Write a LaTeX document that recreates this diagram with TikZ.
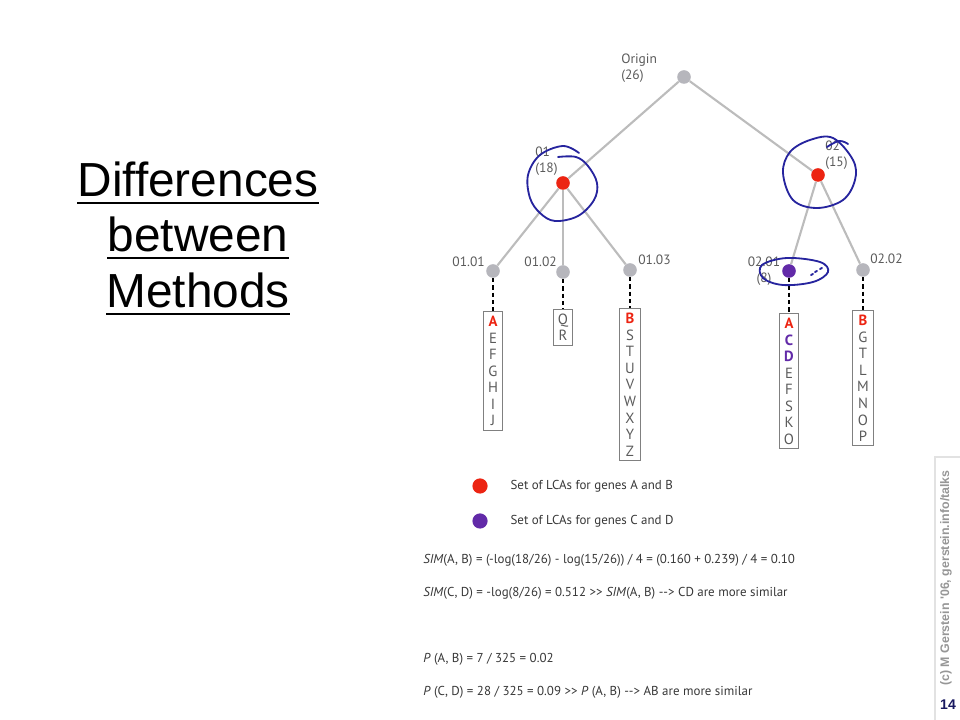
\documentclass[tikz,border=0pt]{standalone}
\usepackage{fontspec}
\setmainfont{PT Sans}
\newfontfamily\slidefont{Liberation Sans}
\usepackage{tikz}
\usetikzlibrary{positioning}

\definecolor{lcared}{RGB}{236,36,18}
\definecolor{lcapurple}{RGB}{98,42,168}
\definecolor{nodegray}{RGB}{182,182,188}
\definecolor{edgegray}{RGB}{188,188,188}
\definecolor{lblgray}{RGB}{90,90,90}
\definecolor{textgray}{RGB}{55,55,55}
\definecolor{inkblue}{RGB}{38,36,158}
\definecolor{creditgray}{RGB}{150,150,150}
\definecolor{pagenavy}{RGB}{24,24,96}
\definecolor{framegray}{RGB}{226,226,226}

\newcommand{\abgene}[1]{\textcolor{lcared}{\textbf{#1}}}
\newcommand{\cdgene}[1]{\textcolor{lcapurple}{\textbf{#1}}}

\begin{document}
\begin{tikzpicture}[
        x=0.025cm, y=-0.025cm,
        dot/.style={circle, fill=nodegray, minimum size=0.34cm, inner sep=0pt},
        edge/.style={draw=edgegray, line width=1.5pt},
        stem/.style={draw=black, line width=2pt, dash pattern=on 3pt off 2.2pt},
        leaf/.style={draw=gray, line width=0.7pt, align=center, inner sep=3pt, text=lblgray, font=\fontsize{10.5}{11.8}\selectfont},
        lbl/.style={inner sep=0pt, text=lblgray, font=\fontsize{9.6}{11.2}\selectfont},
        note/.style={inner sep=0pt, text=textgray, font=\fontsize{9.2}{11}\selectfont},
        scribble/.style={draw=inkblue, line width=1.3pt, line cap=round, line join=round},
        title/.style={inner sep=0pt, anchor=base, font=\slidefont\fontsize{34}{40}\selectfont},
        uline/.style={draw=black, line width=2pt},
    ]

    \useasboundingbox (0,0) rectangle (960,720);

    % === TITLE ===
    \node[title] (t1) at (198,197) {Differences};
    \node[title] (t2) at (198,252) {between};
    \node[title] (t3) at (198,308) {Methods};
    \draw[uline] ([yshift=-0.15cm]t1.base west) -- ([yshift=-0.15cm]t1.base east);
    \draw[uline] ([yshift=-0.15cm]t2.base west) -- ([yshift=-0.15cm]t2.base east);
    \draw[uline] ([yshift=-0.15cm]t3.base west) -- ([yshift=-0.15cm]t3.base east);

    % === TREE ===
    \node[dot] (origin) at (684,77) {};
    \node[lbl, anchor=north west, align=left] (lorigin) at (621,54) {Origin\\(26)};

    \node[dot, fill=lcared] (n01) at (563,183) {};
    \node[lbl, anchor=north west, align=left] (l01) at (535,147) {01\\(18)};
    \node[dot, fill=lcared] (n02) at (818,175) {};
    \node[lbl, anchor=north west, align=left] (l02) at (825,141) {02\\(15)};
    \draw[edge] (origin) -- (n01);
    \draw[edge] (origin) -- (n02);

    % children of 01
    \node[dot] (n0101) at (493,271) {};
    \node[lbl, anchor=north east] (l0101) at (485,257) {01.01};
    \node[dot] (n0102) at (563,272) {};
    \node[lbl, anchor=north east] (l0102) at (557,257) {01.02};
    \node[dot] (n0103) at (630,270) {};
    \node[lbl, anchor=north west] (l0103) at (638,255) {01.03};
    \draw[edge] (n01) -- (n0101);
    \draw[edge] (n01) -- (n0102);
    \draw[edge] (n01) -- (n0103);

    % children of 02
    \node[dot, fill=lcapurple] (n0201) at (789,271) {};
    \node[lbl, anchor=north, align=center] (l0201) at (764,257) {02.01\\(8)};
    \node[dot] (n0202) at (863,270) {};
    \node[lbl, anchor=north west] (l0202) at (870,254) {02.02};
    \draw[edge] (n02) -- (n0201);
    \draw[edge] (n02) -- (n0202);

    % --- gene lists ---
    \node[leaf, below=0.83cm of n0101] (b0101) {\abgene{A}\\E\\F\\G\\H\\I\\J};
    \node[leaf, below=0.75cm of n0102] (b0102) {Q\\R};
    \node[leaf, below=0.78cm of n0103] (b0103) {\abgene{B}\\S\\T\\U\\V\\W\\X\\Y\\Z};
    \node[leaf, below=0.88cm of n0201] (b0201) {\abgene{A}\\\cdgene{C}\\\cdgene{D}\\E\\F\\S\\K\\O};
    \node[leaf, below=0.83cm of n0202] (b0202) {\abgene{B}\\G\\T\\L\\M\\N\\O\\P};
    \draw[stem] (n0101) -- (b0101);
    \draw[stem] (n0102) -- (b0102);
    \draw[stem] (n0103) -- (b0103);
    \draw[stem] (n0201) -- (b0201);
    \draw[stem] (n0202) -- (b0202);

    % === HAND-DRAWN MARKS ===
    \draw[scribble] plot[smooth, tension=0.6] coordinates {(579,153) (563,146) (540,155) (528,175) (530,198) (540,213) (555,221) (578,216) (594,200) (597,183) (588,166) (576,157) (558,157)};
    \draw[scribble] plot[smooth cycle, tension=0.6] coordinates {(783,173) (790,152) (810,140) (833,138) (853,160) (855,180) (843,200) (817,208) (793,200)};
    \draw[scribble] plot[smooth, tension=0.7] coordinates {(827,147) (839,141) (848,144)};
    \draw[scribble] plot[smooth cycle, tension=0.6] coordinates {(762,265) (787,258) (820,262) (828,272) (813,282) (783,285) (763,278)};
    \draw[scribble] (811,275) -- (813,274);
    \draw[scribble] (815,272) -- (817,271);
    \draw[scribble] (820,269) -- (822,268);

    % === LEGEND ===
    \node[dot, fill=lcared, minimum size=0.38cm] (keyab) at (480,486) {};
    \node[note, right=0.56cm of keyab] (txtab) {Set of LCAs for genes A and B};
    \node[dot, fill=lcapurple, minimum size=0.38cm] (keycd) at (480,521) {};
    \node[note, right=0.56cm of keycd] (txtcd) {Set of LCAs for genes C and D};

    % === SCORES ===
    \node[note, anchor=base west] (simab) at (423,563) {\textit{SIM}(A, B) = (-log(18/26) - log(15/26)) / 4 = (0.160 + 0.239) / 4 = 0.10};
    \node[note, anchor=base west] (simcd) at (423,597) {\textit{SIM}(C, D) = -log(8/26) = 0.512 >{}> \textit{SIM}(A, B) -{}-> CD are more similar};
    \node[note, anchor=base west] (pab) at (423,662) {\textit{P} (A, B) = 7 / 325 = 0.02};
    \node[note, anchor=base west] (pcd) at (423,695) {\textit{P} (C, D) = 28 / 325 = 0.09 >{}> \textit{P} (A, B) -{}-> AB are more similar};

    % === FOOTER ===
    \draw[framegray, line width=0.8pt] (935,720) -- (935,457) -- (960,457);
    \node[rotate=90, inner sep=0pt, text=creditgray, font=\slidefont\bfseries\fontsize{8.8}{10}\selectfont] (credit) at (946,578) {(c) M Gerstein '06, gerstein.info/talks};
    \node[inner sep=0pt, text=pagenavy, font=\slidefont\bfseries\fontsize{10}{12}\selectfont] (page) at (948,705) {14};

\end{tikzpicture}
\end{document}
